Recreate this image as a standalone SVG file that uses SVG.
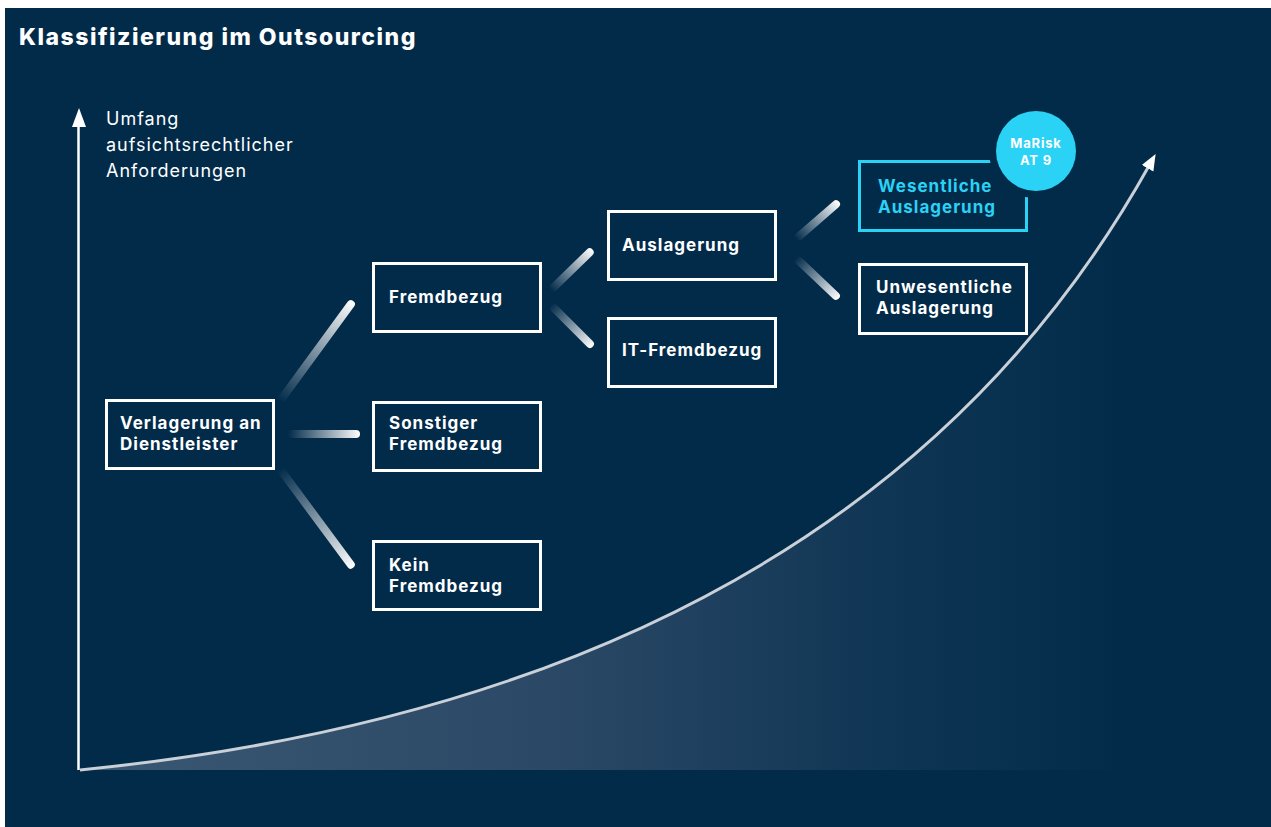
<svg xmlns="http://www.w3.org/2000/svg" width="1271" height="827" viewBox="0 0 1271 827">
  <style>
    .box { fill: none; stroke: #ffffff; stroke-width: 3; }
    .box-hl { fill: none; stroke: #2ad2f5; stroke-width: 3; }
    .lbl { font-family: Inter, "Noto Sans", "Liberation Sans", sans-serif; font-weight: 700; font-size: 17px; letter-spacing: 1px; fill: #ffffff; }
    .lbl-hl { fill: #2ad2f5; }
    .axis-lbl { font-family: Inter, "Noto Sans", "Liberation Sans", sans-serif; font-weight: 400; font-size: 18px; letter-spacing: 1px; fill: #ffffff; }
    .title { font-family: Inter, "Noto Sans", "Liberation Sans", sans-serif; font-weight: 800; font-size: 23px; letter-spacing: 1.5px; fill: #ffffff; }
    .badge-txt { font-family: Inter, "Noto Sans", "Liberation Sans", sans-serif; font-weight: 700; font-size: 13px; letter-spacing: 0.8px; fill: #ffffff; text-anchor: middle; }
    .conn { fill: url(#connFade); }
  </style>
  <defs>
    <!-- connector stroke: transparent at the source, white at the target -->
    <linearGradient id="connFade" x1="0" y1="0" x2="1" y2="0">
      <stop offset="0" stop-color="#ffffff" stop-opacity="0"/>
      <stop offset="0.85" stop-color="#ffffff" stop-opacity="0.85"/>
      <stop offset="1" stop-color="#ffffff" stop-opacity="1"/>
    </linearGradient>
    <!-- area under the growth curve -->
    <linearGradient id="areaFade" gradientUnits="userSpaceOnUse" x1="80" y1="0" x2="1125" y2="0">
      <stop offset="0" stop-color="#3a5873"/>
      <stop offset="0.45" stop-color="#2b4966"/>
      <stop offset="0.8" stop-color="#0d3453"/>
      <stop offset="1" stop-color="#022b4a"/>
    </linearGradient>
    <marker id="curveHead" viewBox="0 0 10 10" refX="3" refY="5" markerWidth="5.5" markerHeight="5.5" markerUnits="strokeWidth" orient="auto">
      <path d="M0,1 L10,5 L0,9 Z" fill="#ffffff"/>
    </marker>
  </defs>

  <!-- panel -->
  <rect x="0" y="0" width="1271" height="827" fill="#ffffff"/>
  <rect x="5" y="8" width="1266" height="819" fill="#022b4a"/>

  <text class="title" x="19" y="45">Klassifizierung im Outsourcing</text>

  <!-- growth curve with shaded area -->
  <path d="M80,770 C600,718 955,515 1150,164 L1150,770 Z" fill="url(#areaFade)"/>
  <path d="M80,770 C600,718 955,515 1150,164" fill="none" stroke="#c9d0d8" stroke-width="3" marker-end="url(#curveHead)"/>

  <!-- vertical axis -->
  <g id="axis">
    <line x1="78.5" y1="770" x2="78.5" y2="125" stroke="#ffffff" stroke-width="2.5"/>
    <path d="M72,127 L79,108 L86,127 Z" fill="#ffffff"/>
    <text class="axis-lbl" x="106" y="125">Umfang</text>
    <text class="axis-lbl" x="106" y="151">aufsichtsrechtlicher</text>
    <text class="axis-lbl" x="106" y="177">Anforderungen</text>
  </g>

  <!-- connectors -->
  <g id="connectors">
    <rect class="conn" x="0" y="-4" width="124" height="8" rx="4" transform="translate(280,401) rotate(-53.8)"/>
    <rect class="conn" x="0" y="-4" width="72" height="8" rx="4" transform="translate(288,434)"/>
    <rect class="conn" x="0" y="-4" width="123" height="8" rx="4" transform="translate(280,469) rotate(53.5)"/>
    <rect class="conn" x="0" y="-4" width="58" height="8" rx="4" transform="translate(551,290) rotate(-44.3)"/>
    <rect class="conn" x="0" y="-4" width="59" height="8" rx="4" transform="translate(551,305) rotate(45)"/>
    <rect class="conn" x="0" y="-4" width="57" height="8" rx="4" transform="translate(796,239) rotate(-41)"/>
    <rect class="conn" x="0" y="-4" width="59" height="8" rx="4" transform="translate(796,258) rotate(43.5)"/>
  </g>

  <g id="verlagerung">
    <rect class="box" x="106.5" y="400.5" width="167" height="68"/>
    <text class="lbl" x="120" y="429">Verlagerung an</text>
    <text class="lbl" x="120" y="450">Dienstleister</text>
  </g>

  <g id="fremdbezug">
    <rect class="box" x="373.5" y="263.5" width="167" height="68"/>
    <text class="lbl" x="389" y="303">Fremdbezug</text>
  </g>

  <g id="sonstiger">
    <rect class="box" x="373.5" y="402.5" width="167" height="68"/>
    <text class="lbl" x="389" y="429">Sonstiger</text>
    <text class="lbl" x="389" y="450">Fremdbezug</text>
  </g>

  <g id="kein">
    <rect class="box" x="373.5" y="541.5" width="167" height="68"/>
    <text class="lbl" x="389" y="571">Kein</text>
    <text class="lbl" x="389" y="592">Fremdbezug</text>
  </g>

  <g id="auslagerung">
    <rect class="box" x="608.5" y="211.5" width="167" height="68"/>
    <text class="lbl" x="622" y="251">Auslagerung</text>
  </g>

  <g id="it-fremdbezug">
    <rect class="box" x="608.5" y="318.5" width="167" height="68"/>
    <text class="lbl" x="622" y="356">IT-Fremdbezug</text>
  </g>

  <g id="wesentliche">
    <rect class="box-hl" x="859.5" y="161.5" width="167" height="69"/>
    <text class="lbl lbl-hl" x="878" y="192">Wesentliche</text>
    <text class="lbl lbl-hl" x="878" y="213">Auslagerung</text>
  </g>

  <g id="marisk">
    <circle cx="1036" cy="151" r="40" fill="#2ad2f5" stroke="#022b4a" stroke-width="14" paint-order="stroke"/>
    <text class="badge-txt" x="1036" y="148">MaRisk</text>
    <text class="badge-txt" x="1036" y="165">AT 9</text>
  </g>

  <g id="unwesentliche">
    <rect class="box" x="859.5" y="264.5" width="167" height="69"/>
    <text class="lbl" x="876" y="293">Unwesentliche</text>
    <text class="lbl" x="876" y="314">Auslagerung</text>
  </g>
</svg>
